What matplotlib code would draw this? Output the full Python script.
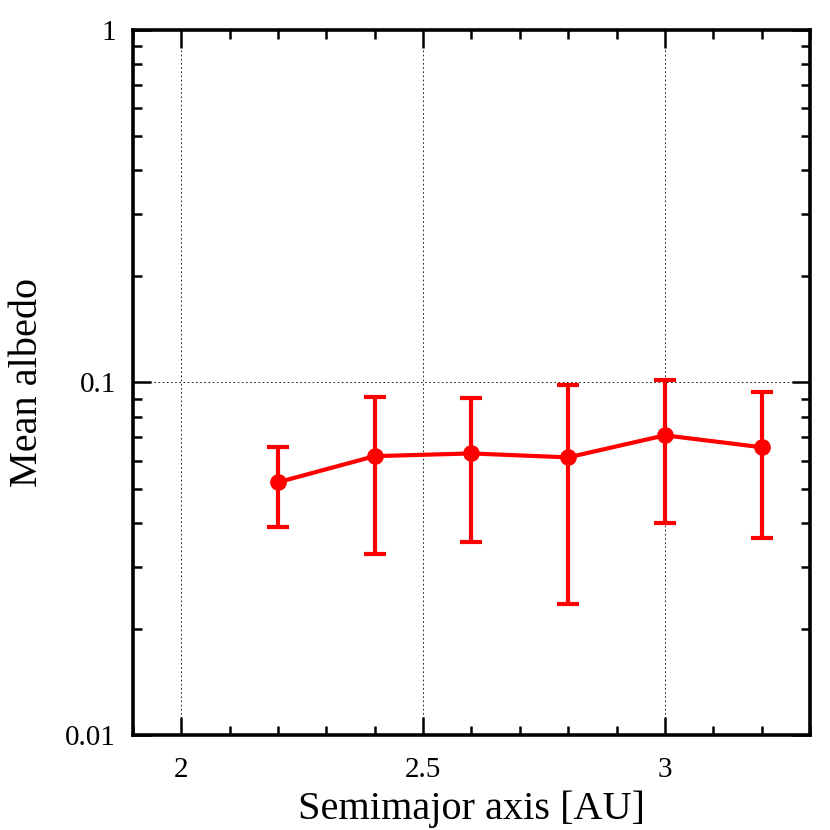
import matplotlib
matplotlib.use("Agg")
import matplotlib.pyplot as plt
from matplotlib.ticker import MultipleLocator, LogLocator, FixedFormatter, FixedLocator, NullFormatter

plt.rcParams['font.family'] = ['Liberation Serif', 'DejaVu Serif']

# mean albedo vs semimajor axis
semimajor = [2.2, 2.4, 2.6, 2.8, 3.0, 3.2]
albedo = [0.0521, 0.0618, 0.0629, 0.0613, 0.0708, 0.0655]
albedo_hi = [0.0655, 0.0907, 0.0901, 0.0985, 0.1015, 0.0937]
albedo_lo = [0.0388, 0.0326, 0.0352, 0.0236, 0.0400, 0.0361]

yerr = [[a - lo for a, lo in zip(albedo, albedo_lo)],
        [hi - a for a, hi in zip(albedo, albedo_hi)]]

fig = plt.figure(figsize=(8.3, 8.3), dpi=100)
ax = fig.add_axes([0.160, 0.1145, 0.816, 0.8494])

ax.errorbar(semimajor, albedo, yerr=yerr, color='#ff0000', lw=3,
            elinewidth=3, capsize=8, capthick=3, marker='o', markersize=11)

ax.set_yscale('log')
ax.set_xlim(1.9, 3.3)
ax.set_ylim(0.01, 1)

ax.xaxis.set_major_locator(FixedLocator([2, 2.5, 3]))
ax.xaxis.set_major_formatter(FixedFormatter(['2', '2.5', '3']))
ax.xaxis.set_minor_locator(MultipleLocator(0.1))
ax.yaxis.set_major_locator(FixedLocator([0.01, 0.1, 1]))
ax.yaxis.set_major_formatter(FixedFormatter(['0.01', '0.1', '1']))
ax.yaxis.set_minor_locator(LogLocator(base=10, subs=range(2, 10)))
ax.yaxis.set_minor_formatter(NullFormatter())

ax.tick_params(which='both', direction='in', top=True, right=True, width=1.8)
ax.tick_params(which='major', length=13, labelsize=21)
ax.tick_params(which='minor', length=6.5)
ax.tick_params(axis='x', which='major', pad=16)
ax.tick_params(axis='y', which='major', pad=12)

ax.grid(True, which='major', color='black', linestyle=(0, (2, 3)), linewidth=0.6)
for s in ax.spines.values():
    s.set_linewidth(2.6)

ax.set_xlabel('Semimajor axis [AU]', fontsize=29, va='bottom')
ax.xaxis.set_label_coords(0.5, -0.132)
ax.set_ylabel('Mean albedo', fontsize=29, labelpad=14)

fig.savefig('out.png', dpi=100)
